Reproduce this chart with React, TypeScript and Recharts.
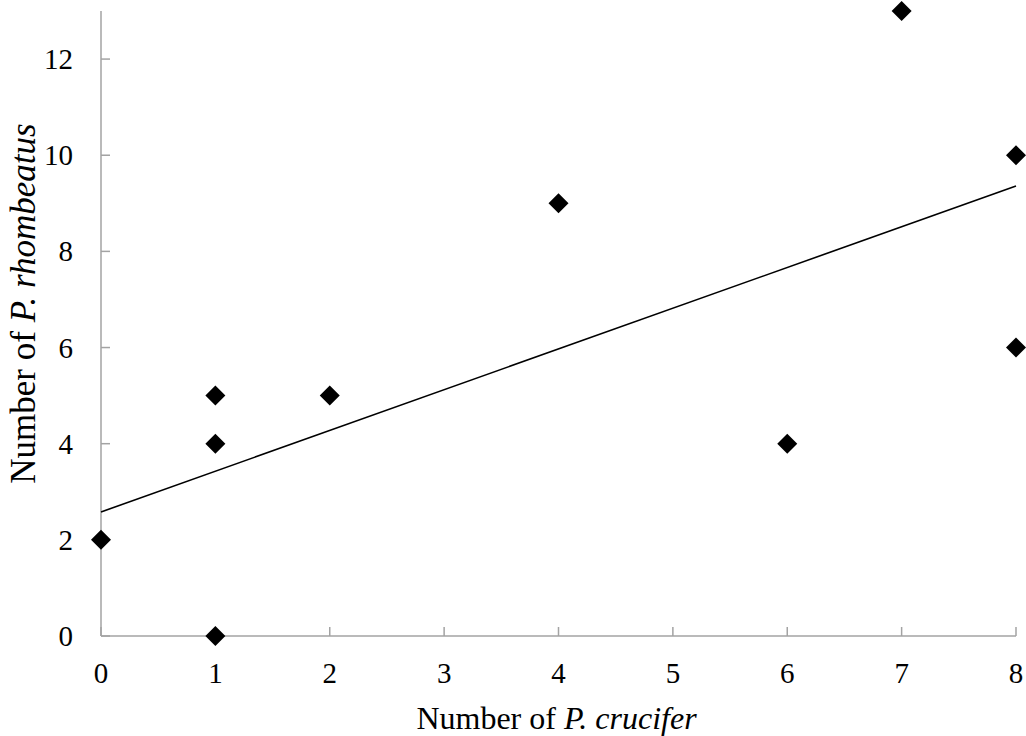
import { Scatter, ScatterChart, XAxis, YAxis } from "recharts";

// P. crucifer (x) vs P. rhombeatus (y) counts
const crucifer = [0, 1, 1, 1, 2, 4, 6, 7, 8, 8];
const rhombeatus = [2, 5, 4, 0, 5, 9, 4, 13, 10, 6];

// linear trend line end points
const trendX = [0, 8];
const trendY = [2.58, 9.36];

const xTicks = [0, 1, 2, 3, 4, 5, 6, 7, 8];
const yTicks = [0, 2, 4, 6, 8, 10, 12];

const points = crucifer.map((x, i) => ({ x, y: rhombeatus[i] }));
const trend = trendX.map((x, i) => ({ x, y: trendY[i] }));

const FONT = '"Liberation Serif", "Times New Roman", serif';
const AXIS = "#a3a3a3";
const W = 1026;
const H = 736;

function Diamond({ cx, cy }: any) {
  const r = 10;
  return (
    <polygon
      points={`${cx},${cy - r} ${cx + r},${cy} ${cx},${cy + r} ${cx - r},${cy}`}
      fill="#000"
    />
  );
}

function XTick({ x, y, payload }: any) {
  return (
    <g>
      <line x1={x} x2={x} y1={y} y2={y - 9} stroke={AXIS} strokeWidth={1.5} />
      <text x={x} y={y + 47} textAnchor="middle" fontFamily={FONT} fontSize={29} fill="#000">
        {payload.value}
      </text>
    </g>
  );
}

function YTick({ x, y, payload }: any) {
  return (
    <g>
      <line x1={x} x2={x + 9} y1={y} y2={y} stroke={AXIS} strokeWidth={1.5} />
      <text x={x - 28} y={y + 10} textAnchor="end" fontFamily={FONT} fontSize={29} fill="#000">
        {payload.value}
      </text>
    </g>
  );
}

export default function App() {
  return (
    <div style={{ position: "absolute", left: 0, top: 0, width: W, height: H, background: "#fff" }}>
      {/* bottom layer: axes and trend line */}
      <div style={{ position: "absolute", left: 0, top: 0 }}>
        <ScatterChart width={W} height={H} margin={{ top: 11, right: 10, bottom: 0, left: 0 }}>
          <XAxis
            type="number"
            dataKey="x"
            domain={[0, 8]}
            ticks={xTicks}
            interval={0}
            height={100}
            tickSize={0}
            tickMargin={0}
            tickLine={false}
            axisLine={{ stroke: AXIS, strokeWidth: 1.5 }}
            tick={<XTick />}
            label={{
              content: ({ viewBox }: any) => (
                <text
                  x={viewBox.x + viewBox.width / 2 - 2}
                  y={viewBox.y + 93}
                  textAnchor="middle"
                  fontFamily={FONT}
                  fontSize={32}
                  fill="#000"
                >
                  Number of <tspan fontStyle="italic">P. crucifer</tspan>
                </text>
              ),
            }}
          />
          <YAxis
            type="number"
            dataKey="y"
            domain={[0, 13]}
            ticks={yTicks}
            interval={0}
            width={101}
            tickSize={0}
            tickMargin={0}
            tickLine={false}
            axisLine={{ stroke: AXIS, strokeWidth: 1.5 }}
            tick={<YTick />}
            label={{
              content: ({ viewBox }: any) => {
                const cy = viewBox.y + viewBox.height / 2 - 20;
                return (
                  <text
                    x={35}
                    y={cy}
                    transform={`rotate(-90 35 ${cy})`}
                    textAnchor="middle"
                    fontFamily={FONT}
                    fontSize={35}
                    fill="#000"
                  >
                    Number of <tspan fontStyle="italic">P. rhombeatus</tspan>
                  </text>
                );
              },
            }}
          />
          <Scatter
            data={trend}
            line={{ stroke: "#000", strokeWidth: 1.6 }}
            shape={() => <g />}
            isAnimationActive={false}
          />
        </ScatterChart>
      </div>
      {/* top layer: markers, same plot area, sit over the axis lines */}
      <div style={{ position: "absolute", left: 0, top: 0 }}>
        <ScatterChart width={W} height={H} margin={{ top: 11, right: 10, bottom: 100, left: 101 }}>
          <XAxis type="number" dataKey="x" domain={[0, 8]} hide />
          <YAxis type="number" dataKey="y" domain={[0, 13]} hide />
          <Scatter data={points} shape={<Diamond />} isAnimationActive={false} />
        </ScatterChart>
      </div>
    </div>
  );
}
